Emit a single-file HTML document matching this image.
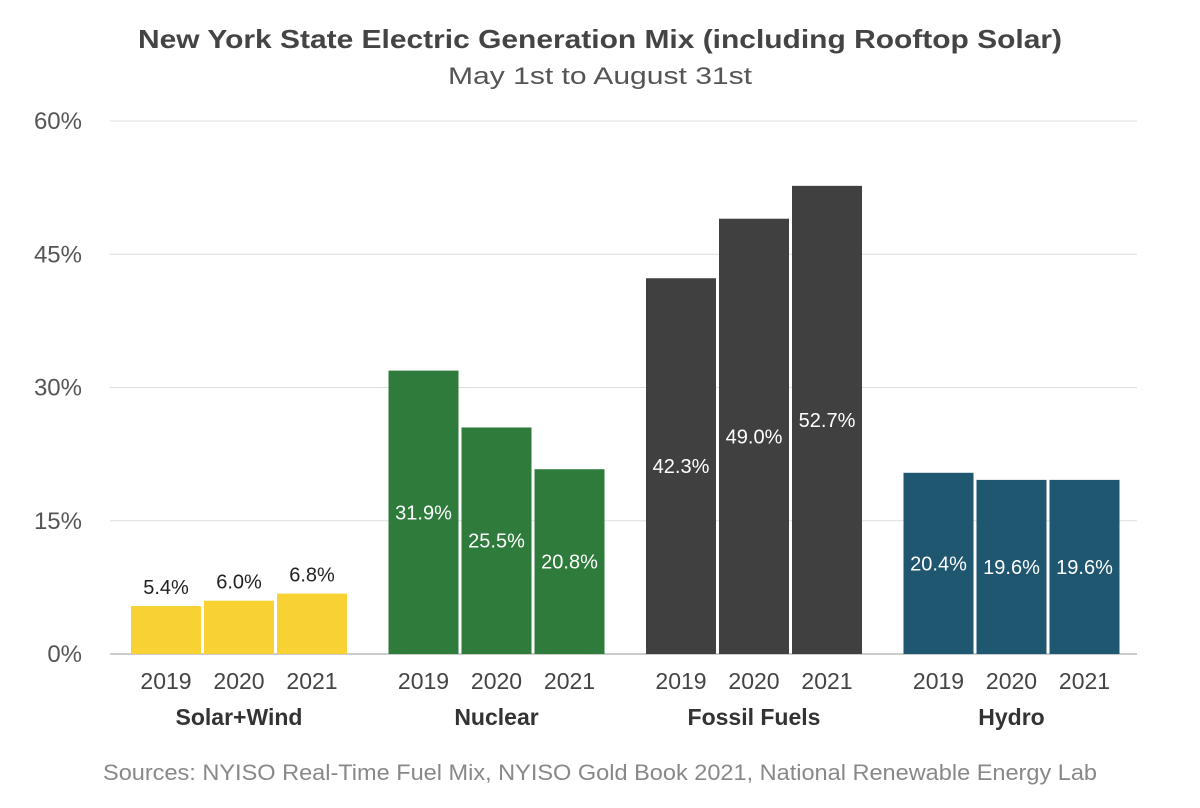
<!DOCTYPE html>
<html><head><meta charset="utf-8">
<style>
html,body{margin:0;padding:0;background:#fff;}
svg{display:block;font-family:"Liberation Sans",sans-serif;}
</style></head>
<body>
<svg id="chart" width="1200" height="808" viewBox="0 0 1200 808">
<text x="600" y="48" text-anchor="middle" font-size="26" font-weight="bold" fill="#444" textLength="924" lengthAdjust="spacingAndGlyphs">New York State Electric Generation Mix (including Rooftop Solar)</text>
<text x="600" y="84" text-anchor="middle" font-size="24" fill="#555" textLength="304" lengthAdjust="spacingAndGlyphs">May 1st to August 31st</text>
<g id="grid"></g>
<g id="bars"></g>
<g id="xlabels"></g>
<text x="600" y="780" text-anchor="middle" font-size="22" fill="#888" textLength="994" lengthAdjust="spacingAndGlyphs">Sources: NYISO Real-Time Fuel Mix, NYISO Gold Book 2021, National Renewable Energy Lab</text>
</svg>
<script>
const categories = ["Solar+Wind","Nuclear","Fossil Fuels","Hydro"];
const years = ["2019","2020","2021"];
const solarWind = [5.4, 6.0, 6.8];
const nuclear = [31.9, 25.5, 20.8];
const fossil = [42.3, 49.0, 52.7];
const hydro = [20.4, 19.6, 19.6];
const yTicks = [0, 15, 30, 45, 60];
const colors = ["#F7D232","#2E7B3B","#404040","#1F5670"];

const series = [solarWind, nuclear, fossil, hydro];
const NS = "http://www.w3.org/2000/svg";
const y0 = 654, y1 = 121, yMax = 60;
const yScale = v => y0 - (v / yMax) * (y0 - y1);
const groupX = i => 131 + i * 257.5;
const barW = 70, barStep = 73;
function mk(tag, attrs, parent, text){
  const e = document.createElementNS(NS, tag);
  for (const k in attrs) e.setAttribute(k, attrs[k]);
  if (text !== undefined) e.textContent = text;
  parent.appendChild(e);
  return e;
}
const grid = document.getElementById('grid');
yTicks.forEach(t => {
  const y = yScale(t);
  const l = mk('line', {x1:110, x2:1137, y1:y, y2:y, stroke: t===0 ? '#bbb' : '#ddd', 'stroke-width': t===0 ? 1.5 : 1}, grid);
  
  
  const tx = mk('text', {x:82, y:y+8, 'text-anchor':'end', 'font-size':24, fill:'#555'}, grid, t + '%');
  
  
});
const bars = document.getElementById('bars');
const xl = document.getElementById('xlabels');
categories.forEach((c, ci) => {
  series[ci].forEach((v, yi) => {
    const x = groupX(ci) + yi * barStep;
    const top = yScale(v);
    const r = mk('rect', {x:x, y:top, width:barW, height:y0 - top, fill:colors[ci]}, bars);
    
    
    const inside = ci !== 0;
    const ly = inside ? (top + y0) / 2 + 7 : top - 12;
    const lt = mk('text', {x:x + barW/2, y:ly, 'text-anchor':'middle', 'font-size':20, fill: inside ? '#fff' : '#222'}, bars, v.toFixed(1) + '%');
    
    
    const yt = mk('text', {x:x + barW/2, y:689, 'text-anchor':'middle', 'font-size':23, fill:'#444'}, xl, years[yi]);
    
    
  });
  const ct = mk('text', {x:groupX(ci) + barStep + barW/2, y:725, 'text-anchor':'middle', 'font-size':23, 'font-weight':'bold', fill:'#333'}, xl, c);
  
  
});
</script>
</body></html>
